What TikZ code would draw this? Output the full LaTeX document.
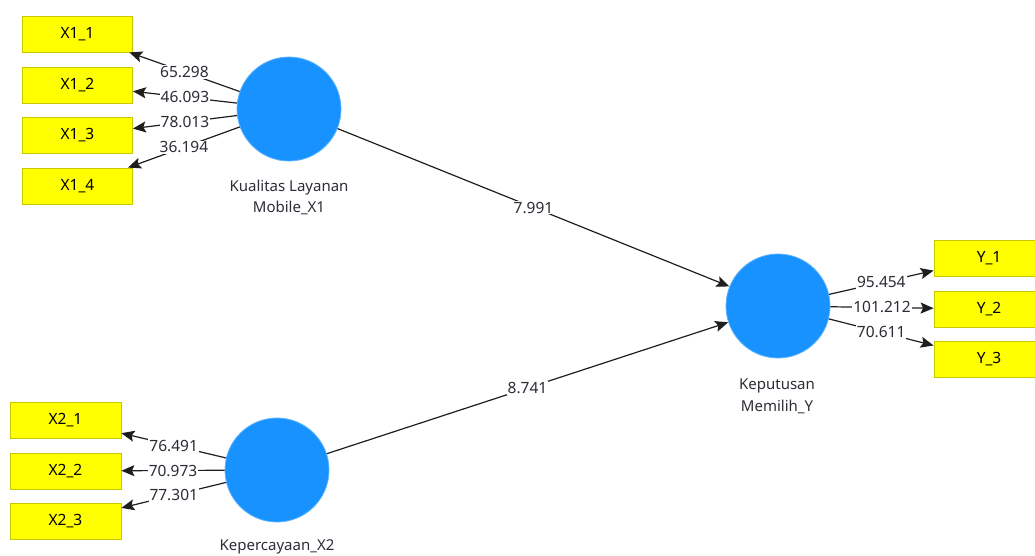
\documentclass[tikz,border=0pt]{standalone}
\usepackage{fontspec}
\setmainfont{Noto Sans}
\usetikzlibrary{arrows.meta}
\definecolor{lvblue}{RGB}{24,146,255}
\definecolor{indyellow}{RGB}{255,255,0}
\definecolor{indborder}{RGB}{200,200,0}
\definecolor{linegray}{RGB}{30,30,30}
\definecolor{numgray}{RGB}{45,45,55}
\tikzset{
  indbox/.style={draw=indborder, line width=0.8pt, fill=indyellow, minimum width=110pt, minimum height=36pt, inner sep=0pt, font=\fontsize{15.5}{18}\selectfont, text=black},
  latent/.style={circle, fill=lvblue, draw=lvblue!70!white, line width=0.8pt, minimum size=104pt, inner sep=0pt},
  lvlabel/.style={align=center, font=\fontsize{15}{21.5}\selectfont, text=numgray},
  conn/.style={draw=linegray, line width=1.2pt, -{Stealth[length=13pt,width=11pt,inset=2.5pt]}},
  coef/.style={fill=white, inner sep=1pt, font=\fontsize{15.5}{18}\selectfont, text=numgray}
}
\begin{document}
\begin{tikzpicture}[x=1pt,y=-1pt]
\useasboundingbox (0,0) rectangle (1035,555);
% latent variables
\node[latent] (X1) at (289,109) {};
\node[latent] (X2) at (277,470) {};
\node[latent] (Y) at (778,306) {};
\node[lvlabel] (lX1) at (289,197.5) {Kualitas Layanan\\Mobile\_X1};
\node[lvlabel] (lX2) at (277,547) {Kepercayaan\_X2};
\node[lvlabel] (lY) at (777,396.5) {Keputusan\\Memilih\_Y};
% indicators
\node[indbox] (x11) at (77.5,34) {X1\_1};
\node[indbox] (x12) at (77.5,85) {X1\_2};
\node[indbox] (x13) at (77.5,135.5) {X1\_3};
\node[indbox] (x14) at (77.5,186) {X1\_4};
\node[indbox, minimum width=111pt] (x21) at (65.5,420) {X2\_1};
\node[indbox, minimum width=111pt] (x22) at (65.5,471) {X2\_2};
\node[indbox, minimum width=111pt] (x23) at (65.5,521.5) {X2\_3};
\node[indbox] (y1) at (989,258) {Y\_1};
\node[indbox] (y2) at (989,309) {Y\_2};
\node[indbox] (y3) at (989,359.5) {Y\_3};
% loadings
\draw[conn] (X1) -- node[coef] {65.298} (x11);
\draw[conn] (X1) -- node[coef] {46.093} (x12);
\draw[conn] (X1) -- node[coef] {78.013} (x13);
\draw[conn] (X1) -- node[coef] {36.194} (x14);
\draw[conn] (X2) -- node[coef] {76.491} (x21);
\draw[conn] (X2) -- node[coef] {70.973} (x22);
\draw[conn] (X2) -- node[coef] {77.301} (x23);
\draw[conn] (Y) -- node[coef] {95.454} (y1);
\draw[conn] (Y) -- node[coef] {101.212} (y2);
\draw[conn] (Y) -- node[coef] {70.611} (y3);
% structural paths
\draw[conn] (X1) -- node[coef] {7.991} (Y);
\draw[conn] (X2) -- node[coef] {8.741} (Y);
\end{tikzpicture}
\end{document}
